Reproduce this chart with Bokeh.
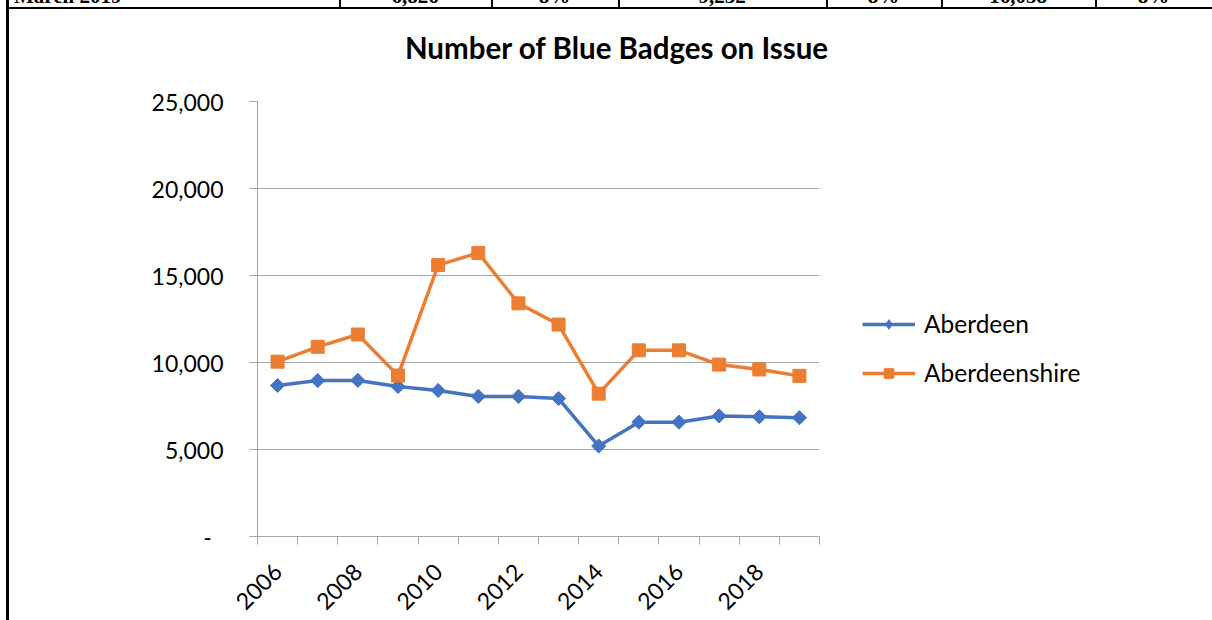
import math
from bokeh.plotting import figure
from bokeh.models import (FixedTicker, NumeralTickFormatter, Legend, LegendItem,
                          Div, ColumnDataSource, Range1d)
from bokeh.layouts import column, row
from bokeh.embed import file_html
from bokeh.resources import INLINE

# ---- data ----
years = list(range(2006, 2020))
aberdeen = [8680, 8960, 8970, 8620, 8390, 8050, 8050, 7930, 5200, 6570, 6570, 6930, 6880, 6826]
aberdeenshire = [10050, 10900, 11610, 9250, 15600, 16300, 13400, 12180, 8210, 10700, 10700, 9880, 9600, 9232]
series_names = ["Aberdeen", "Aberdeenshire"]
y_ticks = [0, 5000, 10000, 15000, 20000, 25000]
x_label_years = [2006, 2008, 2010, 2012, 2014, 2016, 2018]
table_cells = ["March 2019", "6,826", "8%", "9,232", "8%", "16,058", "8%"]
chart_title = "Number of Blue Badges on Issue"

BLUE = "#4472C4"
ORANGE = "#ED7D31"
GRID = "#A6A6A6"
FONT = "Lato"
HEADER_H = 70
ROW_H = 620 - HEADER_H

src = ColumnDataSource(dict(year=years, a=aberdeen, b=aberdeenshire))

p = figure(width=830, height=ROW_H,
           x_range=Range1d(2005.5, 2019.5), y_range=Range1d(0, 25000),
           output_backend="svg", toolbar_location=None,
           min_border_left=248, min_border_right=20,
           min_border_top=31, min_border_bottom=84)
p.outline_line_color = None
p.background_fill_color = "white"
p.border_fill_color = "white"

# y axis
p.yaxis.ticker = FixedTicker(ticks=y_ticks)
p.yaxis.formatter = NumeralTickFormatter(format="0,0")
p.yaxis.major_label_overrides = {0: "-" + "\u00a0" * 2}
p.yaxis.major_tick_out = 8
p.yaxis.major_tick_in = 0
p.yaxis.minor_tick_out = 0
p.yaxis.minor_tick_in = 0
p.yaxis.axis_line_color = GRID
p.yaxis.major_tick_line_color = GRID
p.yaxis.major_label_text_font = FONT
p.yaxis.major_label_text_font_size = "23px"
p.yaxis.major_label_text_color = "#000000"
p.yaxis.major_label_standoff = 26

p.ygrid.ticker = FixedTicker(ticks=y_ticks)
p.ygrid.grid_line_color = GRID
p.xgrid.visible = False

# x axis: labels at category centres, ticks at category boundaries
p.xaxis.ticker = FixedTicker(ticks=years,
                             minor_ticks=[y - 0.5 for y in years] + [years[-1] + 0.5])
p.xaxis.major_label_overrides = {y: (str(y) if y in x_label_years else "") for y in years}
p.xaxis.major_tick_out = 0
p.xaxis.major_tick_in = 0
p.xaxis.minor_tick_out = 8
p.xaxis.minor_tick_in = 0
p.xaxis.minor_tick_line_color = GRID
p.xaxis.axis_line_color = GRID
p.xaxis.major_label_orientation = math.pi / 4
p.xaxis.major_label_text_font = FONT
p.xaxis.major_label_text_font_size = "23px"
p.xaxis.major_label_text_color = "#000000"
p.xaxis.major_label_standoff = 23

p.line("year", "a", source=src, line_color=BLUE, line_width=3.5)
p.scatter("year", "a", source=src, marker="square", angle=math.pi / 4,
          size=10, fill_color=BLUE, line_color=BLUE)
p.line("year", "b", source=src, line_color=ORANGE, line_width=3.5)
p.scatter("year", "b", source=src, marker="square", size=13,
          fill_color=ORANGE, line_color=ORANGE)

# ---- legend panel (to the right of the chart) ----
q = figure(width=373, height=ROW_H, output_backend="svg", toolbar_location=None,
           x_range=Range1d(0, 1), y_range=Range1d(0, 1),
           x_axis_type=None, y_axis_type=None,
           min_border_left=0, min_border_right=0, min_border_top=0, min_border_bottom=0)
q.outline_line_color = None
q.grid.visible = False
off = dict(x=[-5, -4], y=[-5, -4])  # legend proxies, outside the visible range
la = q.line(off["x"], off["y"], line_color=BLUE, line_width=3.5)
ma = q.scatter(off["x"], off["y"], marker="diamond", size=20,
               fill_color=BLUE, line_color=BLUE)
lb = q.line(off["x"], off["y"], line_color=ORANGE, line_width=3.5)
mb = q.scatter(off["x"], off["y"], marker="square", size=13,
               fill_color=ORANGE, line_color=ORANGE)
legend = Legend(items=[LegendItem(label=series_names[0], renderers=[la, ma]),
                       LegendItem(label=series_names[1], renderers=[lb, mb])],
                location=(23, 149), glyph_width=53, glyph_height=24, spacing=20,
                label_standoff=9, label_text_font=FONT, label_text_font_size="24.5px",
                label_text_color="#000000", border_line_color=None,
                background_fill_alpha=0, padding=0, margin=0)
q.add_layout(legend)

# ---- header: surrounding document table fragments + chart title ----
seps = [339, 491, 618, 826, 941, 1095]
bounds = [9] + seps + [1212]
cells_html = ""
for i, txt in enumerate(table_cells):
    l, r = bounds[i], bounds[i + 1]
    if i == 0:
        cells_html += (f'<div style="position:absolute;left:{l + 5}px;top:-16px;'
                       f'font:bold 21px \'Liberation Serif\';white-space:nowrap;">{txt}</div>')
    else:
        cells_html += (f'<div style="position:absolute;left:{l}px;width:{r - l}px;top:-16px;'
                       f'text-align:center;font:bold 21px \'Liberation Serif\';white-space:nowrap;">{txt}</div>')
for s in seps:
    cells_html += f'<div style="position:absolute;left:{s}px;top:0;width:2px;height:8px;background:#000;"></div>'
title_html = (f'<div style="position:absolute;left:304px;width:625px;top:33px;text-align:center;'
              f'font-family:{FONT};font-weight:bold;font-size:29.5px;line-height:29.5px;'
              f'color:#000;white-space:nowrap;">{chart_title}</div>')
header_html = (f'<div style="position:relative;width:1212px;height:{HEADER_H}px;overflow:hidden;background:#fff;">'
               + cells_html + title_html +
               f'<div style="position:absolute;left:6px;top:0;width:3px;height:{HEADER_H}px;background:#000;"></div>'
               '<div style="position:absolute;left:6px;top:7px;width:1206px;height:2px;background:#000;"></div>'
               '</div>')
header = Div(text=header_html, width=1212, height=HEADER_H, margin=0)

border_html = (f'<div style="position:relative;width:9px;height:{ROW_H}px;background:#fff;">'
               f'<div style="position:absolute;left:6px;top:0;width:3px;height:{ROW_H}px;background:#000;"></div>'
               '</div>')
border = Div(text=border_html, width=9, height=ROW_H, margin=0)

layout = column(header, row(border, p, q, spacing=0), spacing=0)

open("out.html", "w").write(file_html(layout, INLINE))
